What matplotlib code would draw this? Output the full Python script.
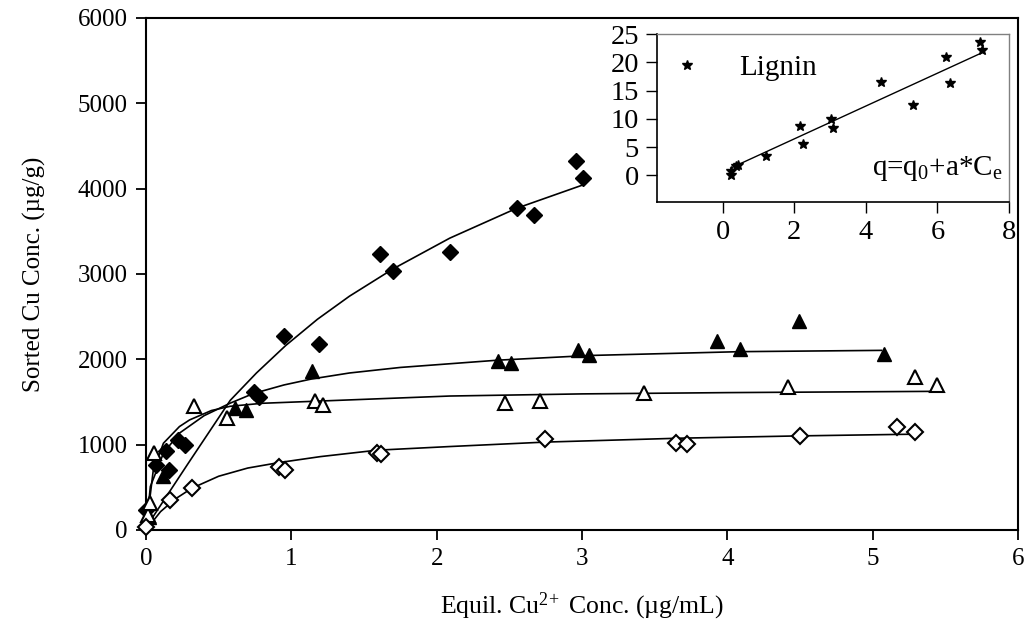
import matplotlib
matplotlib.use('Agg')
import matplotlib.pyplot as plt

plt.rcParams['font.family'] = ['Liberation Serif', 'DejaVu Serif']
plt.rcParams['mathtext.fontset'] = 'custom'
plt.rcParams['mathtext.rm'] = 'Liberation Serif'
plt.rcParams['mathtext.it'] = 'Liberation Serif:italic'
plt.rcParams['mathtext.bf'] = 'Liberation Serif:bold'

# ---- main chart data ----
# filled diamonds
fd_x = [0.0, 0.07, 0.14, 0.16, 0.22, 0.27, 0.74, 0.78, 0.95, 1.19, 1.61, 1.70, 2.09, 2.55, 2.67, 2.96, 3.01]
fd_y = [240, 760, 920, 700, 1060, 1000, 1620, 1560, 2270, 2180, 3230, 3030, 3260, 3770, 3690, 4330, 4120]
fd_fit_x = [0, 0.29, 0.58, 0.76, 0.96, 1.18, 1.40, 1.70, 2.09, 2.55, 3.0]
fd_fit_y = [30, 780, 1520, 1840, 2160, 2470, 2740, 3060, 3420, 3770, 4040]

# filled triangles
ft_x = [0.02, 0.12, 0.61, 0.69, 1.14, 2.42, 2.51, 2.975, 3.045, 3.93, 4.09, 4.49, 5.08]
ft_y = [150, 630, 1430, 1410, 1860, 1975, 1955, 2105, 2055, 2210, 2120, 2455, 2065]
ft_fit_x = [0, 0.03, 0.12, 0.23, 0.40, 0.58, 0.74, 0.95, 1.14, 1.40, 1.75, 2.42, 3.05, 4.09, 5.06]
ft_fit_y = [0, 510, 900, 1135, 1340, 1487, 1600, 1700, 1770, 1840, 1905, 1990, 2045, 2090, 2105]

# open triangles
ot_x = [0.015, 0.03, 0.055, 0.33, 0.555, 1.16, 1.22, 2.47, 2.71, 3.43, 4.42, 5.29, 5.44]
ot_y = [176, 313, 907, 1455, 1311, 1514, 1467, 1494, 1514, 1600, 1675, 1788, 1700]
ot_fit_x = [0, 0.05, 0.12, 0.23, 0.30, 0.45, 0.58, 0.80, 1.18, 2.09, 3.0, 4.0, 5.44]
ot_fit_y = [0, 700, 1017, 1212, 1290, 1400, 1450, 1485, 1510, 1570, 1595, 1610, 1625]

# open diamonds
od_x = [0.0, 0.165, 0.315, 0.915, 0.957, 1.588, 1.62, 2.745, 3.645, 3.72, 4.50, 5.17, 5.29]
od_y = [39, 352, 489, 736, 704, 900, 892, 1064, 1025, 1006, 1103, 1212, 1154]
od_fit_x = [0, 0.1, 0.2, 0.315, 0.5, 0.7, 0.915, 1.2, 1.588, 2.09, 2.745, 3.675, 4.5, 5.29]
od_fit_y = [0, 215, 362, 489, 630, 726, 790, 860, 935, 978, 1030, 1076, 1103, 1123]

x_ticks = [0, 1, 2, 3, 4, 5, 6]
y_ticks = [0, 1000, 2000, 3000, 4000, 5000, 6000]

# ---- inset data (Lignin) ----
lig_x = [0.22, 0.22, 0.38, 0.42, 1.21, 2.16, 2.24, 3.03, 3.07, 4.42, 5.33, 6.23, 6.36, 7.20, 7.25]
lig_y = [0.7, 0.0, 1.6, 1.9, 3.5, 8.7, 5.6, 10.0, 8.3, 16.6, 12.5, 21.0, 16.3, 23.5, 22.2]
lig_fit_x = [0.22, 7.25]
lig_fit_y = [1.3, 21.7]
in_x_ticks = [0, 2, 4, 6, 8]
in_y_ticks = [0, 5, 10, 15, 20, 25]

fig = plt.figure(figsize=(10.32, 6.4), dpi=100)
ax = fig.add_axes([146/1032, 110/640, 872/1032, 512/640])

lw_fit = 1.2
ax.plot(fd_fit_x, fd_fit_y, color='black', lw=lw_fit, zorder=2)
ax.plot(ft_fit_x, ft_fit_y, color='black', lw=lw_fit, zorder=2)
ax.plot(ot_fit_x, ot_fit_y, color='black', lw=lw_fit, zorder=2)
ax.plot(od_fit_x, od_fit_y, color='black', lw=lw_fit, zorder=2)

ax.plot(fd_x, fd_y, ls='none', marker='D', ms=8.5, mfc='black', mec='black', clip_on=False, zorder=3)
ax.plot(ft_x, ft_y, ls='none', marker='^', ms=10, mfc='black', mec='black', clip_on=False, zorder=3)
ax.plot(ot_x, ot_y, ls='none', marker='^', ms=9.5, mfc='white', mec='black', mew=1.5, clip_on=False, zorder=3)
ax.plot(od_x, od_y, ls='none', marker='D', ms=8.5, mfc='white', mec='black', mew=1.5, clip_on=False, zorder=3)

ax.set_xlim(0, 6)
ax.set_ylim(0, 6000)
ax.set_xticks(x_ticks)
ax.set_yticks(y_ticks)
ax.tick_params(axis='both', direction='out', length=7, width=1.3, labelsize=18, pad=6)
for s in ax.spines.values():
    s.set_linewidth(1.5)
    s.set_color('black')
ax.set_ylabel('Sorted Cu Conc. (µg/g)', fontsize=18)
ax.set_xlabel('Equil. Cu$^{2\\!+}$ Conc. (µg/mL)', fontsize=18.5)
ax.yaxis.set_label_coords(-0.115, 0.5)
ax.xaxis.set_label_coords(0.5, -0.118)

# ---- inset ----
ax2 = fig.add_axes([657/1032, (640-202)/640, 352/1032, 168/640])
ax2.plot(lig_fit_x, lig_fit_y, color='black', lw=1.0, zorder=2)
ax2.plot(lig_x, lig_y, ls='none', marker='*', ms=7, mfc='black', mec='black', label='Lignin', zorder=3)
ax2.set_xlim(-1.84, 8)
ax2.set_ylim(-4.7, 25)
ax2.set_xticks(in_x_ticks)
ax2.set_yticks(in_y_ticks)
ax2.tick_params(axis='both', direction='out', length=8, width=1.0, labelsize=20.5, pad=5)
ax2.spines['left'].set_color('black')
ax2.spines['bottom'].set_color('black')
ax2.spines['left'].set_linewidth(1.2)
ax2.spines['bottom'].set_linewidth(1.2)
ax2.spines['top'].set_color('#808080')
ax2.spines['right'].set_color('#808080')
ax2.spines['top'].set_linewidth(1.0)
ax2.spines['right'].set_linewidth(1.0)
ax2.legend(loc='center left', bbox_to_anchor=(0.043, 0.80), frameon=False,
           fontsize=21, handlelength=1.0, handletextpad=1.3, borderpad=0, borderaxespad=0)
ax2.text(0.983, 0.20, 'q=q$_0$+a*C$_\\mathrm{e}$', transform=ax2.transAxes,
         ha='right', va='center', fontsize=21)

fig.savefig('out.png', dpi=100)
